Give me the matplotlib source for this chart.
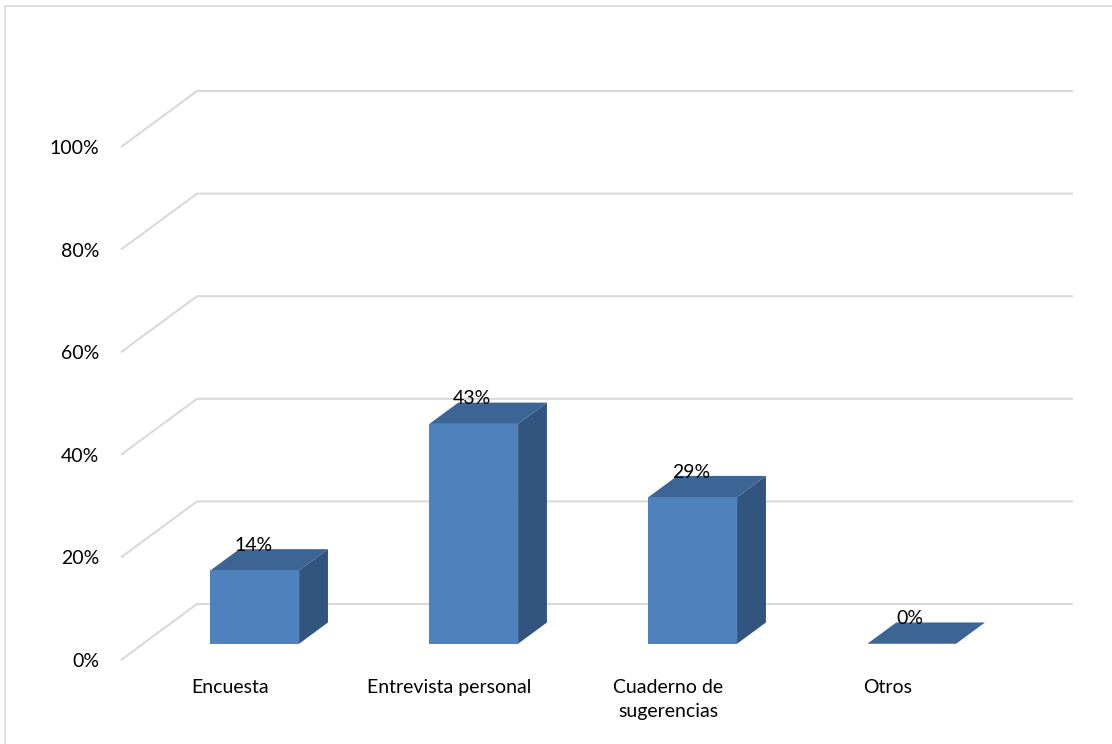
import matplotlib
matplotlib.use("Agg")
import matplotlib.pyplot as plt
from matplotlib.patches import Polygon
from matplotlib.lines import Line2D

categories = ["Encuesta", "Entrevista personal", "Cuaderno de\nsugerencias", "Otros"]
values = [14.29, 42.86, 28.57, 0.0]
value_labels = ["14%", "43%", "29%", "0%"]
yticks = [0, 20, 40, 60, 80, 100]
ytick_labels = ["0%", "20%", "40%", "60%", "80%", "100%"]

plt.rcParams['font.family'] = ['Lato', 'DejaVu Sans']
FS = 14

W, H = 1112, 744
fig = plt.figure(figsize=(W / 100, H / 100), dpi=100)
# front plane of the 3D box
ax = fig.add_axes([121 / W, (H - 660) / H, 876 / W, 513 / H])
ax.set_xlim(0, len(categories))
ax.set_ylim(0, 100)
for s in ax.spines.values():
    s.set_visible(False)

# depth offset (in data units) of the back wall
DX = 76 / 219.0
DY = 56 / 5.13

grid_c = "#D9D9D9"
for v in yticks:
    ax.plot([0, DX, len(categories) + DX], [v, v + DY, v + DY],
            color=grid_c, lw=1.5, clip_on=False, zorder=1, solid_capstyle='butt')

front_c = "#4F81BD"
top_c = "#3C6494"
side_c = "#32557F"
f0, f1 = 0.29, 0.67
bw = 0.405
for i, (v, lab) in enumerate(zip(values, value_labels)):
    x0 = i + 0.51 - bw / 2 + f0 * DX
    x1 = x0 + bw
    yb = f0 * DY
    ddx = (f1 - f0) * DX
    ddy = (f1 - f0) * DY
    yt = yb + v
    front = Polygon([(x0, yb), (x1, yb), (x1, yt), (x0, yt)], closed=True,
                    facecolor=front_c, edgecolor="none", clip_on=False, zorder=3)
    top = Polygon([(x0, yt), (x1, yt), (x1 + ddx, yt + ddy), (x0 + ddx, yt + ddy)],
                  closed=True, facecolor=top_c, edgecolor="none", clip_on=False, zorder=3)
    side = Polygon([(x1, yb), (x1 + ddx, yb + ddy), (x1 + ddx, yt + ddy), (x1, yt)],
                   closed=True, facecolor=side_c, edgecolor="none", clip_on=False, zorder=3)
    for p in (side, top, front):
        ax.add_patch(p)
    ax.annotate(lab, xy=((x0 + x1) / 2, yt), xytext=(-1, 18.0), textcoords="offset points",
                ha="center", va="center", fontsize=FS, color="black", zorder=5,
                annotation_clip=False)

ax.set_yticks(yticks)
ax.set_yticklabels(ytick_labels, fontsize=FS)
ax.set_xticks([i + 0.5 for i in range(len(categories))])
ax.set_xticklabels(categories, fontsize=FS, linespacing=1.5)
ax.tick_params(axis="y", length=0, pad=15.5)
ax.tick_params(axis="x", length=0, pad=13.5)
ax.set_facecolor("none")

# chart border (left and top visible)
fig.add_artist(Line2D([5 / W, 5 / W], [0, (H - 6) / H], color=grid_c, lw=1.2))
fig.add_artist(Line2D([5 / W, 1], [(H - 6) / H, (H - 6) / H], color=grid_c, lw=1.2))

fig.savefig("out.png", dpi=100, facecolor="white")
